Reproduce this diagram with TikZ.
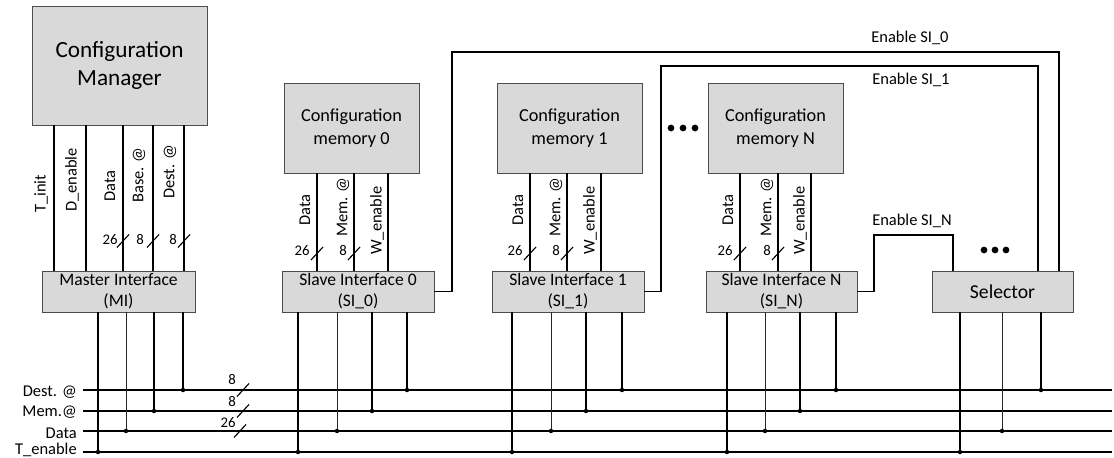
\documentclass[tikz,border=0pt]{standalone}
\usepackage{fontspec}
\setmainfont{Carlito}
\usetikzlibrary{calc}

\def\px{0.025cm}

\begin{document}
\begin{tikzpicture}[
  x=\px, y=-\px,
  blk/.style={draw=black!70, fill=black!15, line width=0.6pt, inner sep=0pt, align=center},
  sig/.style={line width=1.1pt},
  thinsig/.style={line width=0.7pt, black!85},
  bus/.style={line width=1pt},
  en/.style={line width=1pt},
  lbl/.style={font=\fontsize{11.7}{14}\selectfont, inner sep=0pt},
  vlbl/.style={lbl, rotate=90, anchor=west},
  bw/.style={font=\fontsize{10.5}{12}\selectfont, inner sep=0pt},
  tap/ten/.style={sig}, tap/dat/.style={thinsig},
  tap/mem/.style={sig}, tap/dst/.style={sig},
  buswidth/.pic={\draw[line width=0.8pt] (-6,6.5) -- (6,-6.5);},
]
  \useasboundingbox (0,0) rectangle (1114,458);

  % --- Blocks ---
  \node[blk, minimum width=175*\px, minimum height=119*\px,
        font=\fontsize{16.5}{19.5}\selectfont] (cm) at (119.5,65.5) {Configuration\\Manager};
  \node[blk, minimum width=153*\px, minimum height=41*\px,
        font=\fontsize{12.5}{15}\selectfont] (mi) at (118.5,291.5) {Master Interface\\(MI)};

  \node[blk, minimum width=135*\px, minimum height=90*\px,
        font=\fontsize{13}{16.4}\selectfont] (mem0) at (351.5,128) {Configuration\\memory 0};
  \node[blk, minimum width=152*\px, minimum height=41*\px,
        font=\fontsize{12.5}{15}\selectfont] (si0) at (358,291.5) {Slave Interface 0\\(SI\_0)};

  \node[blk, minimum width=145*\px, minimum height=90*\px,
        font=\fontsize{13}{16.4}\selectfont] (mem1) at (569.5,128) {Configuration\\memory 1};
  \node[blk, minimum width=152*\px, minimum height=41*\px,
        font=\fontsize{12.5}{15}\selectfont] (si1) at (568,291.5) {Slave Interface 1\\(SI\_1)};

  \node[blk, minimum width=135*\px, minimum height=90*\px,
        font=\fontsize{13}{16.4}\selectfont] (memN) at (775.5,128) {Configuration\\memory N};
  \node[blk, minimum width=151*\px, minimum height=41*\px,
        font=\fontsize{12.5}{15}\selectfont] (siN) at (781.5,291.5) {Slave Interface N\\(SI\_N)};

  \node[blk, minimum width=141*\px, minimum height=41*\px,
        font=\fontsize{14}{16}\selectfont] (sel) at (1002.5,291.5) {Selector};

  % --- Buses ---
  \coordinate (bdst) at (83,390);
  \coordinate (bmem) at (83,411);
  \coordinate (bdat) at (83,431);
  \coordinate (bten) at (83,452);
  \draw[bus] (bdst) -- ++(1029,0);
  \draw[bus] (bmem) -- ++(1029,0);
  \draw[bus] (bdat) -- ++(1029,0);
  \draw[line width=1.6pt] (bten) -- ++(1029,0);

  \node[lbl, anchor=east] at (77,392) {Dest. @};
  \node[lbl, anchor=east] at (77,412) {Mem.@};
  \node[lbl, anchor=east] at (77,433) {Data};
  \node[lbl, anchor=east] at (77,450) {T\_enable};

  \node[bw] at (232,380) {8};  \pic at (243,390) {buswidth};
  \node[bw] at (232,402) {8};  \pic at (243,411) {buswidth};
  \node[bw] at (228,423) {26}; \pic at (240,431) {buswidth};

  % --- Manager to MI ---
  \foreach \x in {54,86,123,153,184}
    \draw[sig] (cm.south -| \x,0) -- (mi.north -| \x,0);
  \node[vlbl] at (41,213) {T\_init};
  \node[vlbl] at (72,212) {D\_enable};
  \node[vlbl] at (110,202) {Data};
  \node[vlbl] at (139,203) {Base. @};
  \node[vlbl] at (170,199) {Dest. @};
  \node[bw] at (110,240) {26}; \pic at (123,241) {buswidth};
  \node[bw] at (140,240) {8};  \pic at (153,241) {buswidth};
  \node[bw] at (173,240) {8};  \pic at (184,241) {buswidth};

  % --- Memories to slave interfaces ---
  \foreach \n/\a/\b/\c in {0/317/354/388, 1/530/567/601, N/740/778/811} {
    \draw[sig] (mem\n.south -| \a,0) -- (si\n.north -| \a,0);
    \draw[sig] (mem\n.south -| \b,0) -- (si\n.north -| \b,0);
    \draw[sig] (mem\n.south -| \c,0) -- (si\n.north -| \c,0);
    \node[vlbl] at (\a-12,226) {Data};
    \node[vlbl] at (\b-11,237) {Mem. @};
    \node[vlbl] at (\c-11,255) {W\_enable};
    \node[bw] at (\a-15,251) {26}; \pic at (\a,253.5) {buswidth};
    \node[bw] at (\b-11,251) {8};  \pic at (\b,253.5) {buswidth};
  }

  % --- Taps onto buses ---
  \foreach \x/\b in {98/ten,126/dat,154/mem,183/dst} {
    \draw[tap/\b] (mi.south -| \x,0) -- (b\b -| \x,0);
    \fill (b\b -| \x,0) circle[radius=1.6pt];
  }
  \foreach \x/\b in {298/ten,337/dat,372/mem,407/dst} {
    \draw[tap/\b] (si0.south -| \x,0) -- (b\b -| \x,0);
    \fill (b\b -| \x,0) circle[radius=1.6pt];
  }
  \foreach \x/\b in {512/ten,551/dat,586/mem,622/dst} {
    \draw[tap/\b] (si1.south -| \x,0) -- (b\b -| \x,0);
    \fill (b\b -| \x,0) circle[radius=1.6pt];
  }
  \foreach \x/\b in {727/ten,765/dat,800/mem,836/dst} {
    \draw[tap/\b] (siN.south -| \x,0) -- (b\b -| \x,0);
    \fill (b\b -| \x,0) circle[radius=1.6pt];
  }
  \foreach \x/\b in {960/ten,1002/dat,1041/dst} {
    \draw[tap/\b] (sel.south -| \x,0) -- (b\b -| \x,0);
    \fill (b\b -| \x,0) circle[radius=1.6pt];
  }

  % --- Enable lines ---
  \draw[en] (si0.east) -| (452,52) -| (sel.north -| 1059,0);
  \draw[en] (si1.east) -| (661,66) -| (sel.north -| 1038,0);
  \draw[en] (siN.east) -| (874,235) -| (sel.north -| 953,0);
  \node[lbl] at (910,38) {Enable SI\_0};
  \node[lbl] at (911,80) {Enable SI\_1};
  \node[lbl] at (912,221) {Enable SI\_N};

  % --- Ellipses ---
  \foreach \x in {671,683,695}
    \fill (\x,128) circle[radius=2.4pt];
  \foreach \x in {984,995,1006}
    \fill (\x,250) circle[radius=2.4pt];

\end{tikzpicture}
\end{document}
